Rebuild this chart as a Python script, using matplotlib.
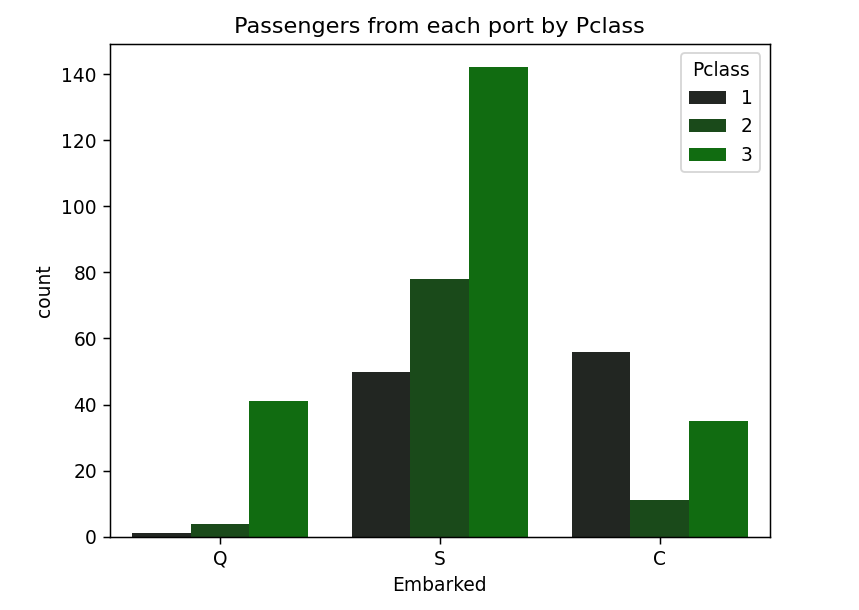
import numpy as np
import pandas as pd
import matplotlib
matplotlib.use("Agg")
import matplotlib.pyplot as plt
import seaborn as sns

ports = ["Q", "S", "C"]
pclasses = ["1", "2", "3"]
counts_1 = [1, 50, 56]
counts_2 = [4, 78, 11]
counts_3 = [41, 142, 35]
colors = ["#222622", "#1a4a1a", "#116c11"]

rows = []
for port, a, b, c in zip(ports, counts_1, counts_2, counts_3):
    rows.append((port, "1", a))
    rows.append((port, "2", b))
    rows.append((port, "3", c))
df = pd.DataFrame(rows, columns=["Embarked", "Pclass", "count"])

# reference looks like a default 100dpi figure scaled up ~1.34x
fig = plt.figure(figsize=(859 / 134, 610 / 134), dpi=134)
ax = fig.add_axes([0.128, 0.12, 0.768, 0.808])
sns.barplot(data=df, x="Embarked", y="count", hue="Pclass", order=ports,
            hue_order=pclasses, palette=colors, saturation=1, ax=ax)
ax.set_title("Passengers from each port by Pclass")
ax.set_ylim(0, 149.1)
ax.set_yticks([0, 20, 40, 60, 80, 100, 120, 140])
ax.legend(title="Pclass", loc="upper right")

fig.savefig("out.png", dpi=134)
